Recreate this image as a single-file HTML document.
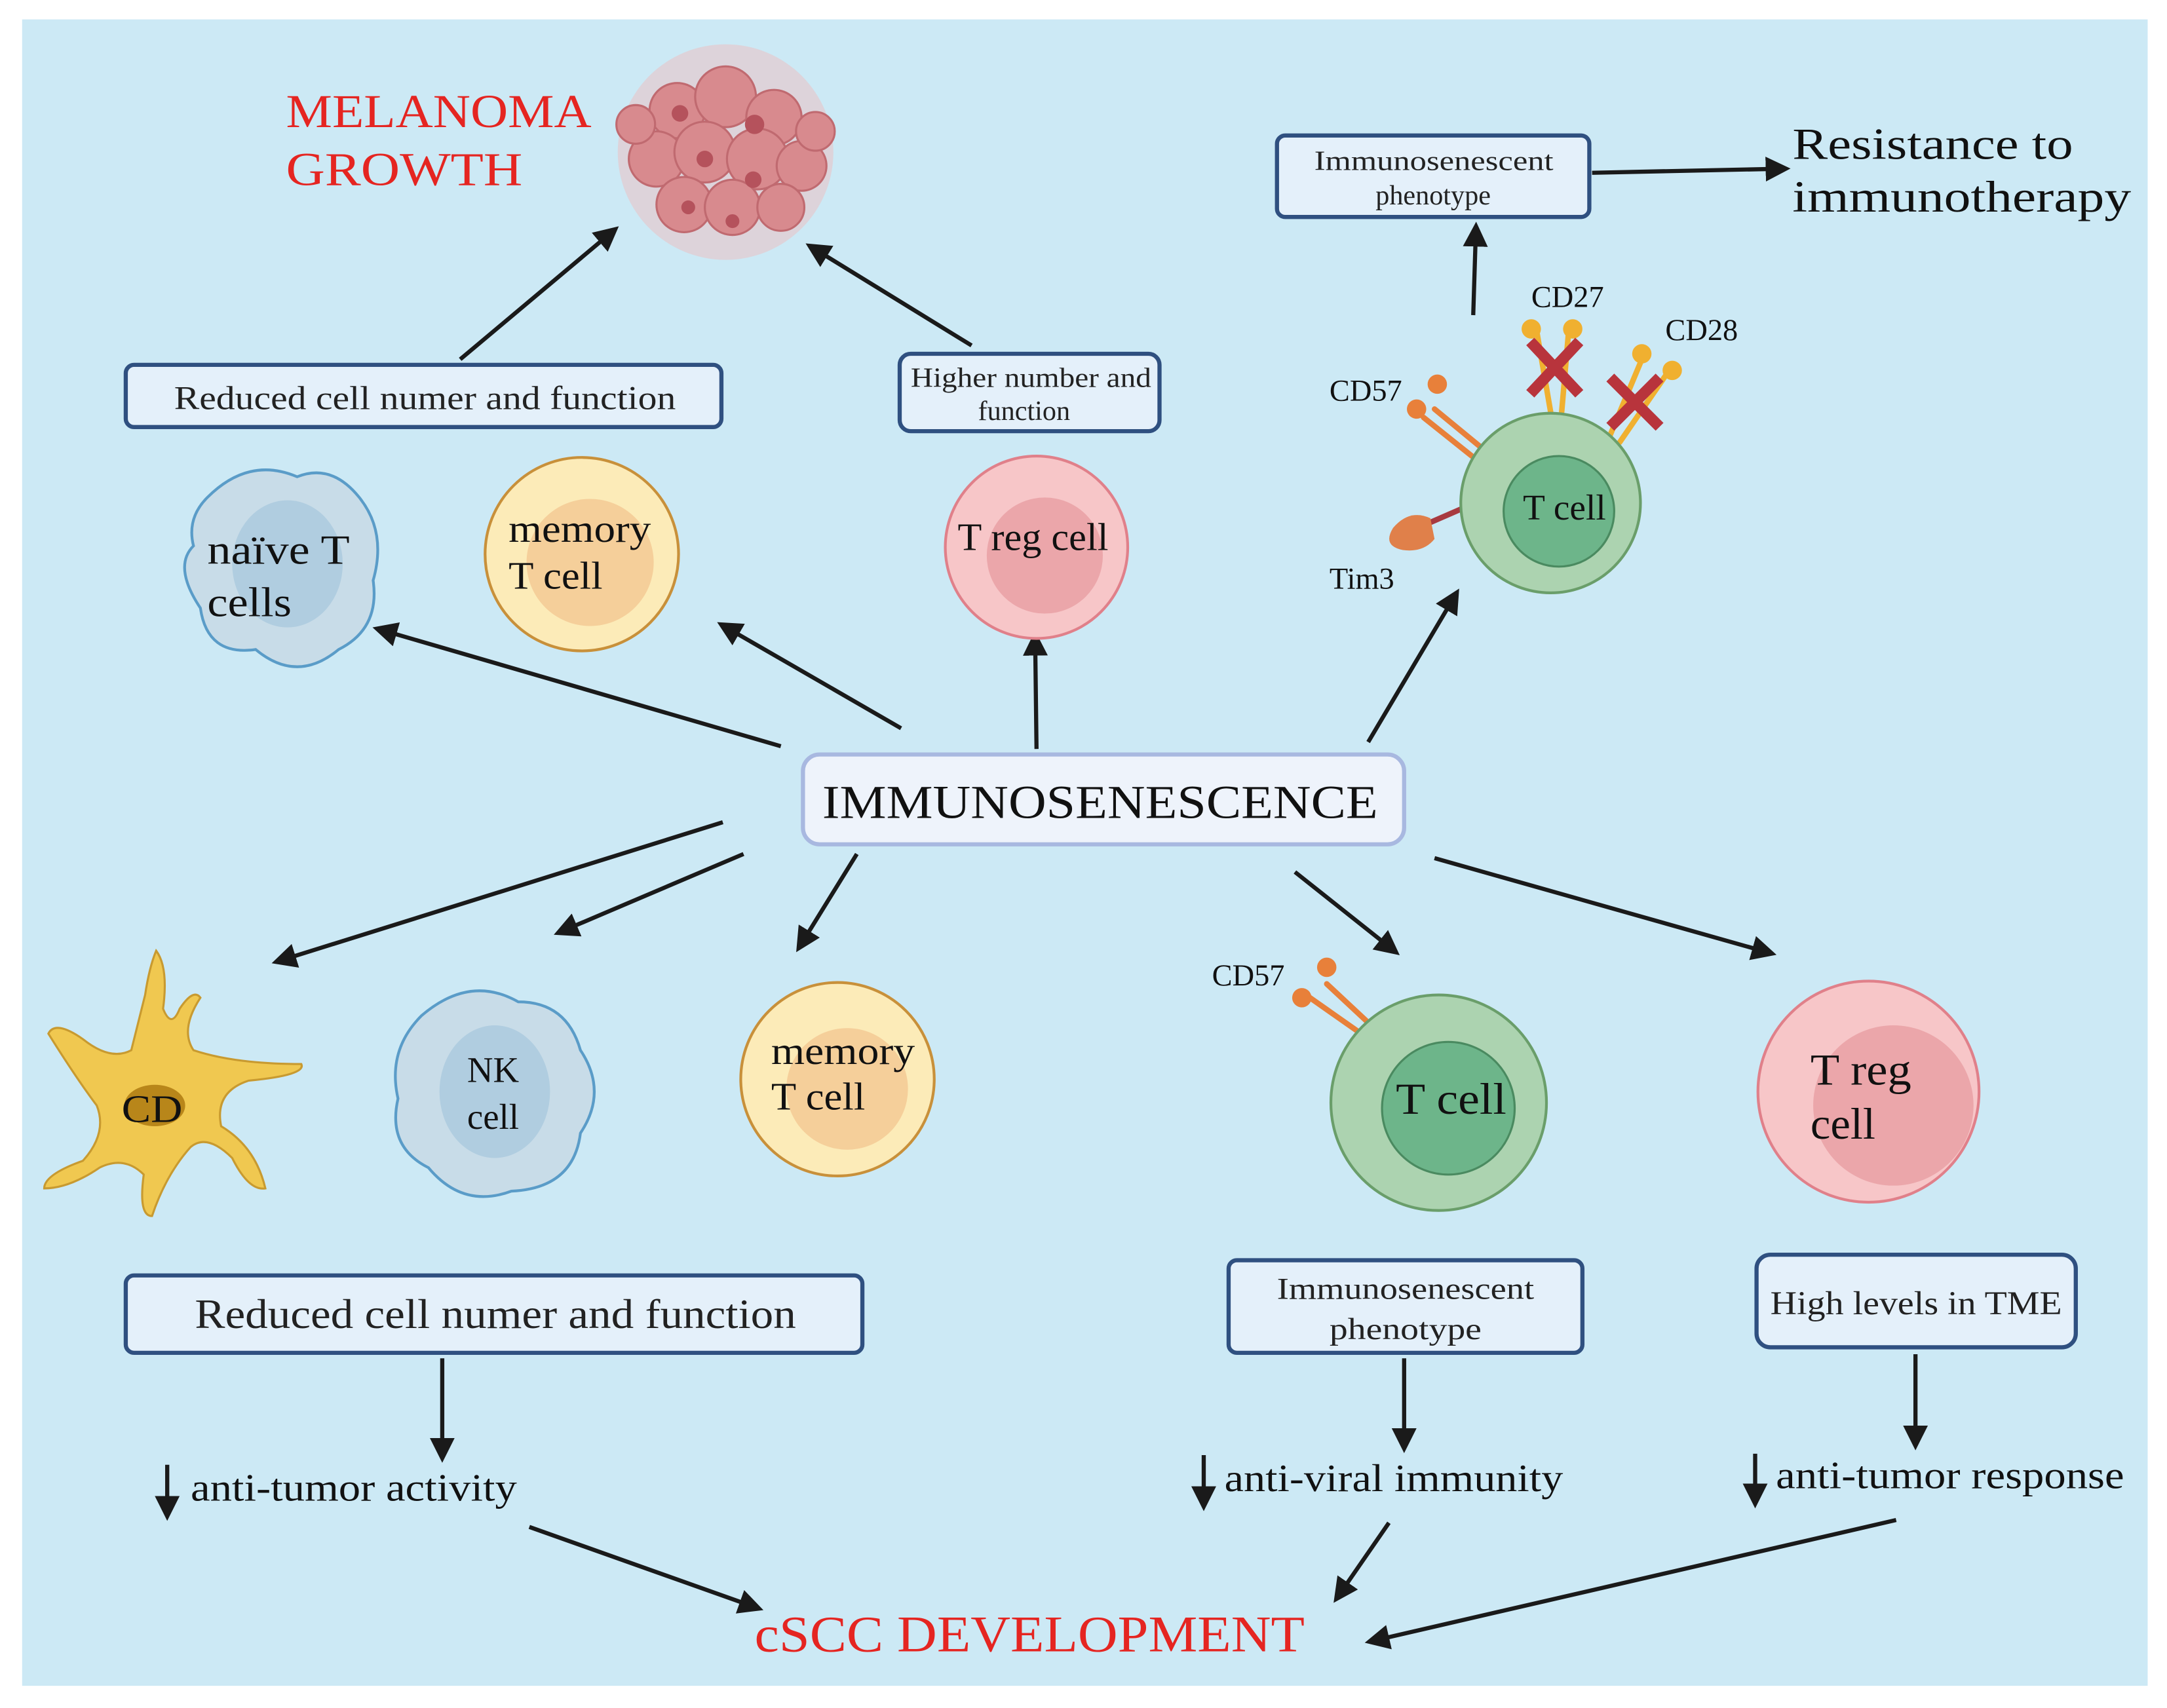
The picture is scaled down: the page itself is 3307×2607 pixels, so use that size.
<!DOCTYPE html>
<html><head><meta charset="utf-8">
<style>
html,body{margin:0;padding:0;background:#fff;}
svg{display:block;}
text{font-family:"Liberation Serif",serif;}
</style></head>
<body>
<svg width="3307" height="2607" viewBox="0 0 1568 1236" xmlns="http://www.w3.org/2000/svg">
<defs>
<marker id="a" viewBox="0 0 10 10" markerWidth="18" markerHeight="18" refX="8" refY="5" orient="auto" markerUnits="userSpaceOnUse">
<path d="M0,0 L10,5 L0,10 z" fill="#1a1a1a"/>
</marker>
</defs>
<rect x="0" y="0" width="1568" height="1236" fill="#fff"/>
<rect x="16" y="14" width="1538" height="1206" fill="#cce9f5"/>

<!-- melanoma -->
<g>
<circle cx="525" cy="110" r="78" fill="#e8c4c8" opacity="0.6"/>
<g fill="#d88a8e" stroke="#c06a70" stroke-width="1.5">
<circle cx="490" cy="80" r="20"/><circle cx="525" cy="70" r="22"/><circle cx="560" cy="85" r="20"/>
<circle cx="475" cy="115" r="20"/><circle cx="510" cy="110" r="22"/><circle cx="548" cy="115" r="22"/>
<circle cx="580" cy="120" r="18"/><circle cx="495" cy="148" r="20"/><circle cx="530" cy="150" r="20"/>
<circle cx="565" cy="150" r="17"/><circle cx="460" cy="90" r="14"/><circle cx="590" cy="95" r="14"/>
</g>
<g fill="#b5525c"><circle cx="492" cy="82" r="6"/><circle cx="546" cy="90" r="7"/><circle cx="510" cy="115" r="6"/><circle cx="545" cy="130" r="6"/><circle cx="498" cy="150" r="5"/><circle cx="530" cy="160" r="5"/></g>
</g>
<text x="207" y="92" font-size="34" fill="#e52521" textLength="221" lengthAdjust="spacingAndGlyphs">MELANOMA</text>
<text x="207" y="134" font-size="34" fill="#e52521" textLength="171" lengthAdjust="spacingAndGlyphs">GROWTH</text>

<!-- top boxes -->
<rect x="91" y="264" width="431" height="45" rx="6" fill="#e4f0fa" stroke="#2f5080" stroke-width="3"/>
<text x="126" y="296" font-size="24" fill="#222" textLength="363" lengthAdjust="spacingAndGlyphs">Reduced cell numer and function</text>
<rect x="651" y="256" width="188" height="56" rx="8" fill="#e4f0fa" stroke="#2f5080" stroke-width="3"/>
<text x="659" y="280" font-size="20" fill="#222" textLength="174" lengthAdjust="spacingAndGlyphs">Higher number and</text>
<text x="741" y="304" font-size="20" text-anchor="middle" fill="#222">function</text>
<rect x="924" y="98" width="226" height="59" rx="6" fill="#e4f0fa" stroke="#2f5080" stroke-width="3"/>
<text x="951" y="123" font-size="20" fill="#222" textLength="173" lengthAdjust="spacingAndGlyphs">Immunosenescent</text>
<text x="1037" y="148" font-size="20" text-anchor="middle" fill="#222">phenotype</text>
<text x="1297" y="115" font-size="32" fill="#111" textLength="203" lengthAdjust="spacingAndGlyphs">Resistance to</text>
<text x="1297" y="153" font-size="32" fill="#111" textLength="245" lengthAdjust="spacingAndGlyphs">immunotherapy</text>

<g stroke="#1a1a1a" stroke-width="3" fill="none" marker-end="url(#a)">
<line x1="1152" y1="125" x2="1292" y2="122"/>
<line x1="1066" y1="228" x2="1068" y2="164"/>
<line x1="333" y1="260" x2="445" y2="166"/>
<line x1="703" y1="250" x2="586" y2="178"/>
<line x1="565" y1="540" x2="273" y2="455"/>
<line x1="652" y1="527" x2="522" y2="452"/>
<line x1="750" y1="542" x2="749" y2="460"/>
<line x1="990" y1="537" x2="1054" y2="429"/>
<line x1="523" y1="595" x2="200" y2="696"/>
<line x1="538" y1="618" x2="404" y2="675"/>
<line x1="620" y1="618" x2="578" y2="686"/>
<line x1="937" y1="631" x2="1010" y2="689"/>
<line x1="1038" y1="621" x2="1282" y2="690"/>
<line x1="320" y1="983" x2="320" y2="1055"/>
<line x1="1016" y1="983" x2="1016" y2="1048"/>
<line x1="1386" y1="980" x2="1386" y2="1046"/>
<line x1="383" y1="1105" x2="549" y2="1164"/>
<line x1="1005" y1="1102" x2="967" y2="1157"/>
<line x1="1372" y1="1100" x2="991" y2="1188"/>
</g>

<!-- naive T cells -->
<path d="M150,360 Q180,330 215,345 Q240,335 260,360 Q280,385 270,420 Q275,455 245,470 Q215,495 185,470 Q150,475 145,440 Q125,410 140,395 Q135,375 150,360 z" fill="#c8dce8" stroke="#5a9cc8" stroke-width="2"/>
<ellipse cx="208" cy="408" rx="40" ry="46" fill="#b0cde0"/>
<text x="150" y="408" font-size="30" fill="#111" textLength="103" lengthAdjust="spacingAndGlyphs">naïve T</text>
<text x="150" y="446" font-size="30" fill="#111" textLength="61" lengthAdjust="spacingAndGlyphs">cells</text>

<!-- memory T cell top -->
<circle cx="421" cy="401" r="70" fill="#fcebb8" stroke="#c8903a" stroke-width="2"/>
<circle cx="427" cy="407" r="46" fill="#f5cf9a"/>
<text x="368" y="392" font-size="28" fill="#111" textLength="103" lengthAdjust="spacingAndGlyphs">memory</text>
<text x="368" y="426" font-size="28" fill="#111" textLength="68" lengthAdjust="spacingAndGlyphs">T cell</text>

<!-- T reg top -->
<circle cx="750" cy="396" r="66" fill="#f7c6c8" stroke="#e0808a" stroke-width="2"/>
<circle cx="756" cy="402" r="42" fill="#eba6aa"/>
<text x="693" y="398" font-size="28" fill="#111" textLength="109" lengthAdjust="spacingAndGlyphs">T reg cell</text>

<!-- T cell top right with receptors -->
<g stroke-linecap="round" fill="none">
<line x1="1072" y1="324" x2="1038" y2="296" stroke="#e8803a" stroke-width="4"/>
<line x1="1065" y1="330" x2="1030" y2="302" stroke="#e8803a" stroke-width="4"/>
<line x1="1122" y1="298" x2="1112" y2="240" stroke="#f0b030" stroke-width="4"/>
<line x1="1130" y1="298" x2="1135" y2="240" stroke="#f0b030" stroke-width="4"/>
<line x1="1165" y1="315" x2="1188" y2="260" stroke="#f0b030" stroke-width="4"/>
<line x1="1172" y1="320" x2="1205" y2="272" stroke="#f0b030" stroke-width="4"/>
<line x1="1058" y1="368" x2="1035" y2="378" stroke="#a83a40" stroke-width="4"/>
</g>
<g fill="#e8803a"><circle cx="1040" cy="278" r="7"/><circle cx="1025" cy="296" r="7"/></g>
<g fill="#f0b030"><circle cx="1108" cy="238" r="7"/><circle cx="1138" cy="238" r="7"/><circle cx="1188" cy="256" r="7"/><circle cx="1210" cy="268" r="7"/></g>
<path d="M1035,375 Q1020,368 1008,382 Q1000,395 1015,398 Q1030,400 1038,390 z" fill="#e0804a"/>
<circle cx="1122" cy="364" r="65" fill="#acd3b0" stroke="#6a9e6a" stroke-width="2"/>
<circle cx="1128" cy="370" r="40" fill="#6db58a" stroke="#4a8a60" stroke-width="1.5"/>
<text x="1102" y="376" font-size="26" fill="#111" textLength="60" lengthAdjust="spacingAndGlyphs">T cell</text>
<g stroke="#b8343c" stroke-width="8" stroke-linecap="square">
<line x1="1110" y1="250" x2="1140" y2="282"/><line x1="1140" y1="250" x2="1110" y2="282"/>
<line x1="1168" y1="276" x2="1198" y2="306"/><line x1="1198" y1="276" x2="1168" y2="306"/>
</g>
<text x="962" y="290" font-size="22" fill="#111">CD57</text>
<text x="1108" y="222" font-size="22" fill="#111">CD27</text>
<text x="1205" y="246" font-size="22" fill="#111">CD28</text>
<text x="962" y="426" font-size="22" fill="#111">Tim3</text>

<!-- IMMUNOSENESCENCE -->
<rect x="581" y="546" width="435" height="65" rx="12" fill="#eef3fb" stroke="#a8b8e0" stroke-width="3"/>
<text x="595" y="592" font-size="34" fill="#111" textLength="402" lengthAdjust="spacingAndGlyphs">IMMUNOSENESCENCE</text>

<!-- dendritic cell -->
<g fill="#f0c850" stroke="#c89a30" stroke-width="1.5">
<path d="M95,760 Q100,740 105,720 Q108,700 113,688 Q122,700 118,730 Q124,745 130,730 Q140,715 145,722 Q130,745 140,760 Q170,770 218,770 Q222,778 180,782 Q155,790 160,815 Q185,830 192,860 Q180,862 168,838 Q150,820 138,830 Q120,850 110,880 Q100,880 104,850 Q90,836 72,845 Q50,860 32,860 Q32,850 60,840 Q78,820 70,800 Q55,780 35,748 Q40,738 60,752 Q80,768 95,760 z"/>
</g>
<ellipse cx="112" cy="800" rx="22" ry="15" fill="#b8861a"/>
<text x="88" y="812" font-size="28" fill="#111" textLength="44" lengthAdjust="spacingAndGlyphs">CD</text>

<!-- NK cell -->
<path d="M305,735 Q340,705 375,725 Q410,725 420,760 Q440,790 420,820 Q415,860 370,862 Q335,875 310,845 Q280,830 288,795 Q280,760 305,735 z" fill="#c8dce8" stroke="#5a9cc8" stroke-width="2"/>
<ellipse cx="358" cy="790" rx="40" ry="48" fill="#b0cde0"/>
<text x="338" y="783" font-size="26" fill="#111">NK</text>
<text x="338" y="817" font-size="26" fill="#111">cell</text>

<!-- memory T cell bottom -->
<circle cx="606" cy="781" r="70" fill="#fcebb8" stroke="#c8903a" stroke-width="2"/>
<circle cx="613" cy="788" r="44" fill="#f5cf9a"/>
<text x="558" y="770" font-size="28" fill="#111" textLength="104" lengthAdjust="spacingAndGlyphs">memory</text>
<text x="558" y="803" font-size="28" fill="#111" textLength="68" lengthAdjust="spacingAndGlyphs">T cell</text>

<!-- T cell bottom -->
<g stroke="#e8803a" stroke-width="4" stroke-linecap="round">
<line x1="990" y1="740" x2="960" y2="712"/><line x1="982" y1="746" x2="945" y2="720"/>
</g>
<g fill="#e8803a"><circle cx="960" cy="700" r="7"/><circle cx="942" cy="722" r="7"/></g>
<circle cx="1041" cy="798" r="78" fill="#acd3b0" stroke="#6a9e6a" stroke-width="2"/>
<circle cx="1048" cy="802" r="48" fill="#6db58a" stroke="#4a8a60" stroke-width="1.5"/>
<text x="1010" y="806" font-size="32" fill="#111" textLength="80" lengthAdjust="spacingAndGlyphs">T cell</text>
<text x="877" y="713" font-size="22" fill="#111">CD57</text>

<!-- T reg bottom -->
<circle cx="1352" cy="790" r="80" fill="#f7c6c8" stroke="#e0808a" stroke-width="2"/>
<circle cx="1370" cy="800" r="58" fill="#eba6aa"/>
<text x="1310" y="785" font-size="32" fill="#111" textLength="73" lengthAdjust="spacingAndGlyphs">T reg</text>
<text x="1310" y="824" font-size="32" fill="#111" textLength="47" lengthAdjust="spacingAndGlyphs">cell</text>

<!-- bottom boxes -->
<rect x="91" y="923" width="533" height="56" rx="6" fill="#e4f0fa" stroke="#2f5080" stroke-width="3"/>
<text x="141" y="961" font-size="30" fill="#222" textLength="435" lengthAdjust="spacingAndGlyphs">Reduced cell numer and function</text>
<rect x="889" y="912" width="256" height="67" rx="6" fill="#e4f0fa" stroke="#2f5080" stroke-width="3"/>
<text x="924" y="940" font-size="22" fill="#222" textLength="186" lengthAdjust="spacingAndGlyphs">Immunosenescent</text>
<text x="1017" y="969" font-size="22" text-anchor="middle" fill="#222" textLength="110" lengthAdjust="spacingAndGlyphs">phenotype</text>
<rect x="1271" y="908" width="231" height="67" rx="10" fill="#e4f0fa" stroke="#2f5080" stroke-width="3"/>
<text x="1281" y="951" font-size="24" fill="#222" textLength="211" lengthAdjust="spacingAndGlyphs">High levels in TME</text>

<g stroke="#1a1a1a" stroke-width="3" marker-end="url(#a)">
<line x1="121" y1="1060" x2="121" y2="1097"/>
<line x1="871" y1="1053" x2="871" y2="1090"/>
<line x1="1270" y1="1052" x2="1270" y2="1088"/>
</g>
<text x="138" y="1086" font-size="28" fill="#111" textLength="236" lengthAdjust="spacingAndGlyphs">anti-tumor activity</text>
<text x="886" y="1079" font-size="28" fill="#111" textLength="245" lengthAdjust="spacingAndGlyphs">anti-viral immunity</text>
<text x="1285" y="1077" font-size="28" fill="#111" textLength="252" lengthAdjust="spacingAndGlyphs">anti-tumor response</text>

<text x="546" y="1195" font-size="37" fill="#e52521" textLength="398" lengthAdjust="spacingAndGlyphs">cSCC DEVELOPMENT</text>
</svg>
</body></html>
